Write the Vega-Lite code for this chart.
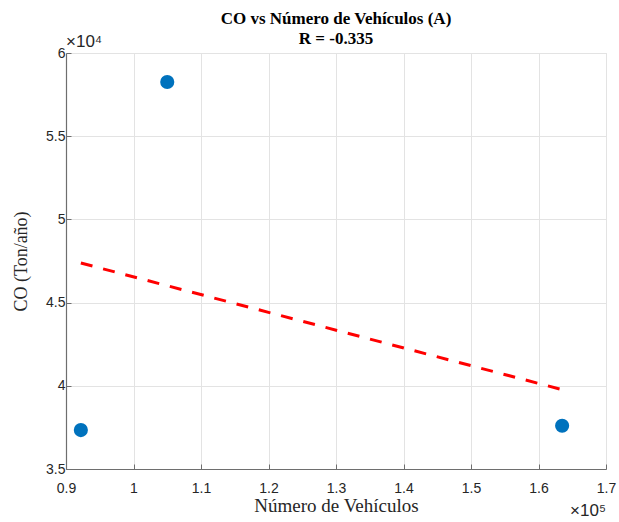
{
  "$schema": "https://vega.github.io/schema/vega-lite/v6.json",
  "width": 540,
  "height": 416,
  "autosize": "none",
  "padding": {"left": 66, "top": 53, "right": 13, "bottom": 53},
  "background": "white",
  "config": {
    "view": {"stroke": "#e3e3e3", "strokeWidth": 1},
    "axis": {
      "labelFont": "Liberation Sans",
      "labelFontSize": 14,
      "labelColor": "#262626",
      "labelFlush": false,
      "titleFont": "Liberation Serif",
      "titleFontWeight": "normal",
      "titleColor": "#262626",
      "domainColor": "#6e6e6e",
      "domainWidth": 1.2,
      "tickColor": "#6e6e6e",
      "tickSize": -5,
      "gridColor": "#e3e3e3",
      "gridWidth": 1
    }
  },
  "title": {
    "text": ["CO vs Número de Vehículos (A)", "R = -0.335"],
    "font": "Liberation Serif",
    "fontSize": 17,
    "fontWeight": "bold",
    "color": "#000000",
    "lineHeight": 20,
    "offset": -15,
    "frame": "group",
    "anchor": "middle"
  },
  "datasets": {
    "points": [
      {"vehiculos": 92200, "co": 37340},
      {"vehiculos": 105000, "co": 58260},
      {"vehiculos": 163500, "co": 37600}
    ],
    "fit": [
      {"vehiculos": 92200, "co": 47380},
      {"vehiculos": 163500, "co": 39770}
    ]
  },
  "layer": [
    {
      "data": {"name": "fit"},
      "mark": {"type": "line", "color": "#FF0000", "strokeWidth": 3, "strokeDash": [12, 11]},
      "encoding": {
        "x": {
          "field": "vehiculos", "type": "quantitative",
          "scale": {"domain": [90000, 170000], "nice": false},
          "axis": {
            "title": "Número de Vehículos",
            "titleFontSize": 19,
            "values": [90000, 100000, 110000, 120000, 130000, 140000, 150000, 160000, 170000],
            "labelExpr": "format(datum.value / 100000, '.1~f')",
            "labelPadding": 17,
            "titlePadding": 1
          }
        },
        "y": {
          "field": "co", "type": "quantitative",
          "scale": {"domain": [35000, 60000], "nice": false},
          "axis": {
            "title": "CO (Ton/año)",
            "titleFontSize": 18,
            "values": [35000, 40000, 45000, 50000, 55000, 60000],
            "labelExpr": "format(datum.value / 10000, '.1~f')",
            "labelPadding": 6,
            "titlePadding": 15
          }
        }
      }
    },
    {
      "data": {"name": "points"},
      "mark": {"type": "circle", "color": "#0072BD", "size": 200, "opacity": 1},
      "encoding": {
        "x": {"field": "vehiculos", "type": "quantitative"},
        "y": {"field": "co", "type": "quantitative"}
      }
    },
    {
      "data": {"values": [{"x": 90000, "y": 60000, "t": "×10⁴"}]},
      "mark": {"type": "text", "font": "Liberation Sans", "fontSize": 17, "color": "#262626", "align": "left", "baseline": "bottom", "dx": 0, "dy": -2},
      "encoding": {
        "x": {"field": "x", "type": "quantitative"},
        "y": {"field": "y", "type": "quantitative"},
        "text": {"field": "t"}
      }
    },
    {
      "data": {"values": [{"x": 170000, "y": 35000, "t": "×10⁵"}]},
      "mark": {"type": "text", "font": "Liberation Sans", "fontSize": 17, "color": "#262626", "align": "right", "baseline": "top", "dx": 0, "dy": 34},
      "encoding": {
        "x": {"field": "x", "type": "quantitative"},
        "y": {"field": "y", "type": "quantitative"},
        "text": {"field": "t"}
      }
    }
  ]
}
